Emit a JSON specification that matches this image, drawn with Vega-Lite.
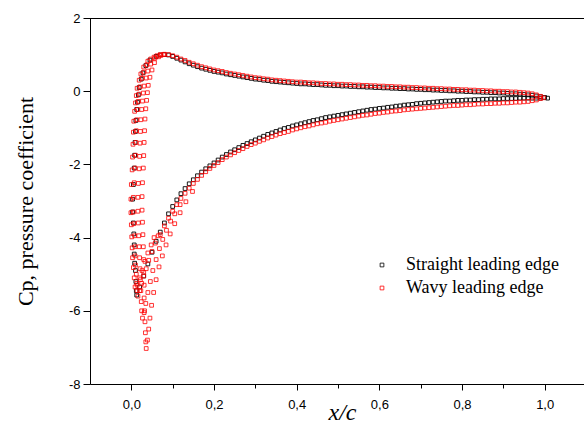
{
  "$schema": "https://vega.github.io/schema/vega-lite/v6.json",
  "width": 496,
  "height": 366,
  "autosize": {"type": "none"},
  "padding": {"left": 90, "top": 18, "right": 0, "bottom": 39},
  "background": "white",
  "config": {
    "view": {"stroke": null},
    "axis": {
      "grid": false,
      "domainColor": "#000000",
      "domainWidth": 1,
      "tickColor": "#000000",
      "tickWidth": 1,
      "labelColor": "#000000",
      "labelFont": "Liberation Sans",
      "labelFontSize": 13,
      "titleColor": "#000000",
      "titleFont": "Liberation Serif",
      "titleFontWeight": "normal"
    },
    "legend": {"labelFont": "Liberation Serif", "labelFontSize": 18, "labelColor": "#000000"}
  },
  "datasets": {
    "straight": [
      {"x":0.06,"y":0.95},{"x":0.07,"y":0.99},{"x":0.08,"y":1.0},{"x":0.09,"y":0.99},{"x":0.10,"y":0.95},{"x":0.11,"y":0.9},{"x":0.12,"y":0.85},{"x":0.13,"y":0.8},{"x":0.14,"y":0.75},{"x":0.15,"y":0.71},{"x":0.16,"y":0.67},{"x":0.17,"y":0.63},{"x":0.18,"y":0.6},{"x":0.19,"y":0.57},{"x":0.20,"y":0.54},{"x":0.21,"y":0.52},{"x":0.22,"y":0.5},{"x":0.23,"y":0.47},{"x":0.24,"y":0.45},{"x":0.25,"y":0.43},{"x":0.26,"y":0.41},{"x":0.27,"y":0.39},{"x":0.28,"y":0.37},{"x":0.29,"y":0.35},{"x":0.30,"y":0.33},{"x":0.31,"y":0.32},{"x":0.32,"y":0.3},{"x":0.33,"y":0.29},{"x":0.34,"y":0.27},{"x":0.35,"y":0.26},{"x":0.36,"y":0.25},{"x":0.37,"y":0.24},{"x":0.38,"y":0.23},{"x":0.39,"y":0.22},{"x":0.40,"y":0.21},{"x":0.41,"y":0.2},{"x":0.42,"y":0.2},{"x":0.43,"y":0.19},{"x":0.44,"y":0.18},{"x":0.45,"y":0.18},{"x":0.46,"y":0.17},{"x":0.47,"y":0.16},{"x":0.48,"y":0.16},{"x":0.49,"y":0.15},{"x":0.50,"y":0.15},{"x":0.51,"y":0.14},{"x":0.52,"y":0.14},{"x":0.53,"y":0.13},{"x":0.54,"y":0.13},{"x":0.55,"y":0.12},{"x":0.56,"y":0.12},{"x":0.57,"y":0.11},{"x":0.58,"y":0.11},{"x":0.59,"y":0.1},{"x":0.60,"y":0.1},{"x":0.61,"y":0.09},{"x":0.62,"y":0.09},{"x":0.63,"y":0.08},{"x":0.64,"y":0.08},{"x":0.65,"y":0.07},{"x":0.66,"y":0.07},{"x":0.67,"y":0.06},{"x":0.68,"y":0.06},{"x":0.69,"y":0.05},{"x":0.70,"y":0.05},{"x":0.71,"y":0.04},{"x":0.72,"y":0.04},{"x":0.73,"y":0.03},{"x":0.74,"y":0.03},{"x":0.75,"y":0.02},{"x":0.76,"y":0.02},{"x":0.77,"y":0.01},{"x":0.78,"y":0.01},{"x":0.79,"y":0.0},{"x":0.80,"y":0.0},{"x":0.81,"y":-0.01},{"x":0.82,"y":-0.01},{"x":0.83,"y":-0.02},{"x":0.84,"y":-0.02},{"x":0.85,"y":-0.03},{"x":0.86,"y":-0.03},{"x":0.87,"y":-0.04},{"x":0.88,"y":-0.04},{"x":0.89,"y":-0.05},{"x":0.90,"y":-0.05},{"x":0.91,"y":-0.06},{"x":0.92,"y":-0.07},{"x":0.93,"y":-0.07},{"x":0.94,"y":-0.08},{"x":0.95,"y":-0.09},{"x":0.96,"y":-0.1},{"x":0.97,"y":-0.11},{"x":0.98,"y":-0.13},{"x":0.99,"y":-0.15},{"x":1.0,"y":-0.17},{"x":1.007,"y":-0.19},
      {"x":0.045,"y":0.85},{"x":0.035,"y":0.7},{"x":0.028,"y":0.5},{"x":0.024,"y":0.33},{"x":0.019,"y":0.1},{"x":0.017,"y":-0.1},{"x":0.015,"y":-0.3},{"x":0.013,"y":-0.5},{"x":0.011,"y":-0.8},{"x":0.01,"y":-1.1},{"x":0.009,"y":-1.4},{"x":0.008,"y":-1.75},{"x":0.007,"y":-2.1},{"x":0.005,"y":-2.55},{"x":0.003,"y":-2.95},{"x":0.003,"y":-3.3},{"x":0.005,"y":-3.6},{"x":0.006,"y":-3.9},{"x":0.007,"y":-4.2},{"x":0.007,"y":-4.45},{"x":0.008,"y":-4.7},{"x":0.01,"y":-4.9},{"x":0.011,"y":-5.2},{"x":0.012,"y":-5.45},{"x":0.013,"y":-5.57},
      {"x":0.02,"y":-5.35},{"x":0.03,"y":-5.05},{"x":0.04,"y":-4.72},{"x":0.05,"y":-4.4},{"x":0.06,"y":-4.1},{"x":0.07,"y":-3.85},{"x":0.08,"y":-3.6},{"x":0.09,"y":-3.35},{"x":0.10,"y":-3.15},{"x":0.11,"y":-2.97},{"x":0.12,"y":-2.8},{"x":0.13,"y":-2.66},{"x":0.14,"y":-2.53},{"x":0.15,"y":-2.42},{"x":0.16,"y":-2.31},{"x":0.17,"y":-2.21},{"x":0.18,"y":-2.12},{"x":0.19,"y":-2.04},{"x":0.20,"y":-1.96},{"x":0.21,"y":-1.88},{"x":0.22,"y":-1.8},{"x":0.23,"y":-1.73},{"x":0.24,"y":-1.66},{"x":0.25,"y":-1.6},{"x":0.26,"y":-1.54},{"x":0.27,"y":-1.48},{"x":0.28,"y":-1.43},{"x":0.29,"y":-1.38},{"x":0.30,"y":-1.33},{"x":0.31,"y":-1.28},{"x":0.32,"y":-1.23},{"x":0.33,"y":-1.18},{"x":0.34,"y":-1.14},{"x":0.35,"y":-1.1},{"x":0.36,"y":-1.06},{"x":0.37,"y":-1.02},{"x":0.38,"y":-0.99},{"x":0.39,"y":-0.95},
      {"x":0.40,"y":-0.92},{"x":0.41,"y":-0.89},{"x":0.42,"y":-0.86},{"x":0.43,"y":-0.83},{"x":0.44,"y":-0.8},{"x":0.45,"y":-0.78},{"x":0.46,"y":-0.75},{"x":0.47,"y":-0.72},{"x":0.48,"y":-0.7},{"x":0.49,"y":-0.68},{"x":0.50,"y":-0.66},{"x":0.51,"y":-0.64},{"x":0.52,"y":-0.62},{"x":0.53,"y":-0.6},{"x":0.54,"y":-0.58},{"x":0.55,"y":-0.56},{"x":0.56,"y":-0.54},{"x":0.57,"y":-0.52},{"x":0.58,"y":-0.5},{"x":0.59,"y":-0.49},{"x":0.60,"y":-0.47},{"x":0.61,"y":-0.46},{"x":0.62,"y":-0.44},{"x":0.63,"y":-0.43},{"x":0.64,"y":-0.41},{"x":0.65,"y":-0.4},{"x":0.66,"y":-0.38},{"x":0.67,"y":-0.37},{"x":0.68,"y":-0.36},{"x":0.69,"y":-0.34},{"x":0.70,"y":-0.33},{"x":0.71,"y":-0.32},{"x":0.72,"y":-0.31},{"x":0.73,"y":-0.3},{"x":0.74,"y":-0.29},{"x":0.75,"y":-0.28},{"x":0.76,"y":-0.27},{"x":0.77,"y":-0.27},{"x":0.78,"y":-0.26},{"x":0.79,"y":-0.25},{"x":0.80,"y":-0.25},{"x":0.81,"y":-0.24},{"x":0.82,"y":-0.24},{"x":0.83,"y":-0.23},{"x":0.84,"y":-0.23},{"x":0.85,"y":-0.22},{"x":0.86,"y":-0.22},{"x":0.87,"y":-0.21},{"x":0.88,"y":-0.21},{"x":0.89,"y":-0.21},{"x":0.90,"y":-0.2},{"x":0.91,"y":-0.2},{"x":0.92,"y":-0.2},{"x":0.93,"y":-0.2},{"x":0.94,"y":-0.19},{"x":0.95,"y":-0.19},{"x":0.96,"y":-0.19},{"x":0.97,"y":-0.19},{"x":0.98,"y":-0.19},{"x":0.99,"y":-0.19}
    ],
    "wavy": [
      {"x":0.07,"y":1.0},{"x":0.08,"y":1.01},{"x":0.09,"y":1.0},{"x":0.10,"y":0.97},{"x":0.11,"y":0.93},{"x":0.12,"y":0.88},{"x":0.13,"y":0.84},{"x":0.14,"y":0.79},{"x":0.15,"y":0.75},{"x":0.16,"y":0.71},{"x":0.17,"y":0.67},{"x":0.18,"y":0.64},{"x":0.19,"y":0.61},{"x":0.20,"y":0.58},{"x":0.21,"y":0.56},{"x":0.22,"y":0.54},{"x":0.23,"y":0.51},{"x":0.24,"y":0.49},{"x":0.25,"y":0.47},{"x":0.26,"y":0.45},{"x":0.27,"y":0.43},{"x":0.28,"y":0.41},{"x":0.29,"y":0.39},{"x":0.30,"y":0.37},{"x":0.31,"y":0.36},{"x":0.32,"y":0.34},{"x":0.33,"y":0.33},{"x":0.34,"y":0.31},{"x":0.35,"y":0.3},{"x":0.36,"y":0.29},{"x":0.37,"y":0.28},{"x":0.38,"y":0.27},{"x":0.39,"y":0.26},{"x":0.40,"y":0.25},{"x":0.41,"y":0.25},{"x":0.42,"y":0.24},{"x":0.43,"y":0.23},{"x":0.44,"y":0.23},{"x":0.45,"y":0.22},{"x":0.46,"y":0.21},{"x":0.47,"y":0.21},{"x":0.48,"y":0.2},{"x":0.49,"y":0.2},{"x":0.50,"y":0.19},{"x":0.51,"y":0.19},{"x":0.52,"y":0.18},{"x":0.53,"y":0.18},{"x":0.54,"y":0.17},{"x":0.55,"y":0.17},{"x":0.56,"y":0.16},{"x":0.57,"y":0.16},{"x":0.58,"y":0.15},{"x":0.59,"y":0.15},{"x":0.60,"y":0.14},{"x":0.61,"y":0.14},{"x":0.62,"y":0.13},{"x":0.63,"y":0.13},{"x":0.64,"y":0.12},{"x":0.65,"y":0.12},{"x":0.66,"y":0.11},{"x":0.67,"y":0.11},{"x":0.68,"y":0.1},{"x":0.69,"y":0.1},{"x":0.70,"y":0.09},{"x":0.71,"y":0.09},{"x":0.72,"y":0.08},{"x":0.73,"y":0.08},{"x":0.74,"y":0.07},{"x":0.75,"y":0.07},{"x":0.76,"y":0.06},{"x":0.77,"y":0.06},{"x":0.78,"y":0.05},{"x":0.79,"y":0.05},{"x":0.80,"y":0.04},{"x":0.81,"y":0.04},{"x":0.82,"y":0.03},{"x":0.83,"y":0.03},{"x":0.84,"y":0.02},{"x":0.85,"y":0.02},{"x":0.86,"y":0.01},{"x":0.87,"y":0.01},{"x":0.88,"y":0.0},{"x":0.89,"y":0.0},{"x":0.90,"y":-0.01},{"x":0.91,"y":-0.01},{"x":0.92,"y":-0.02},{"x":0.93,"y":-0.02},{"x":0.94,"y":-0.03},{"x":0.95,"y":-0.04},{"x":0.96,"y":-0.05},{"x":0.97,"y":-0.07},{"x":0.98,"y":-0.1},{"x":0.99,"y":-0.14},{"x":0.997,"y":-0.18},
      {"x":0.07,"y":-3.92},{"x":0.08,"y":-3.68},{"x":0.09,"y":-3.47},{"x":0.10,"y":-3.28},{"x":0.11,"y":-3.1},{"x":0.12,"y":-2.93},{"x":0.13,"y":-2.79},{"x":0.14,"y":-2.65},{"x":0.15,"y":-2.52},{"x":0.16,"y":-2.41},{"x":0.17,"y":-2.3},{"x":0.18,"y":-2.2},{"x":0.19,"y":-2.11},{"x":0.20,"y":-2.03},{"x":0.21,"y":-1.95},{"x":0.22,"y":-1.87},{"x":0.23,"y":-1.8},{"x":0.24,"y":-1.74},{"x":0.25,"y":-1.68},{"x":0.26,"y":-1.62},{"x":0.27,"y":-1.57},{"x":0.28,"y":-1.51},{"x":0.29,"y":-1.46},{"x":0.30,"y":-1.42},{"x":0.31,"y":-1.37},{"x":0.32,"y":-1.33},{"x":0.33,"y":-1.28},{"x":0.34,"y":-1.24},{"x":0.35,"y":-1.2},{"x":0.36,"y":-1.16},{"x":0.37,"y":-1.13},{"x":0.38,"y":-1.1},{"x":0.39,"y":-1.06},{"x":0.40,"y":-1.03},{"x":0.41,"y":-1.0},{"x":0.42,"y":-0.97},{"x":0.43,"y":-0.95},{"x":0.44,"y":-0.92},{"x":0.45,"y":-0.89},{"x":0.46,"y":-0.87},{"x":0.47,"y":-0.85},{"x":0.48,"y":-0.82},{"x":0.49,"y":-0.8},{"x":0.50,"y":-0.78},{"x":0.51,"y":-0.76},{"x":0.52,"y":-0.74},{"x":0.53,"y":-0.72},{"x":0.54,"y":-0.7},{"x":0.55,"y":-0.68},{"x":0.56,"y":-0.66},{"x":0.57,"y":-0.65},{"x":0.58,"y":-0.63},{"x":0.59,"y":-0.61},{"x":0.60,"y":-0.6},{"x":0.61,"y":-0.58},{"x":0.62,"y":-0.57},{"x":0.63,"y":-0.55},{"x":0.64,"y":-0.54},{"x":0.65,"y":-0.53},{"x":0.66,"y":-0.51},{"x":0.67,"y":-0.5},{"x":0.68,"y":-0.49},{"x":0.69,"y":-0.48},{"x":0.70,"y":-0.47},{"x":0.71,"y":-0.46},{"x":0.72,"y":-0.45},{"x":0.73,"y":-0.44},{"x":0.74,"y":-0.43},{"x":0.75,"y":-0.42},{"x":0.76,"y":-0.41},{"x":0.77,"y":-0.4},{"x":0.78,"y":-0.39},{"x":0.79,"y":-0.39},{"x":0.80,"y":-0.38},{"x":0.81,"y":-0.37},{"x":0.82,"y":-0.37},{"x":0.83,"y":-0.36},{"x":0.84,"y":-0.35},{"x":0.85,"y":-0.35},{"x":0.86,"y":-0.34},{"x":0.87,"y":-0.34},{"x":0.88,"y":-0.33},{"x":0.89,"y":-0.33},{"x":0.90,"y":-0.32},{"x":0.91,"y":-0.32},{"x":0.92,"y":-0.31},{"x":0.93,"y":-0.3},{"x":0.94,"y":-0.3},{"x":0.95,"y":-0.29},{"x":0.96,"y":-0.28},{"x":0.97,"y":-0.26},{"x":0.98,"y":-0.24},{"x":0.99,"y":-0.2},
      {"x":0.062,"y":0.97},{"x":0.047,"y":0.88},{"x":0.037,"y":0.72},{"x":0.03,"y":0.52},{"x":0.026,"y":0.35},{"x":0.021,"y":0.12},{"x":0.019,"y":-0.08},{"x":0.017,"y":-0.28},{"x":0.015,"y":-0.5},{"x":0.013,"y":-0.78},{"x":0.012,"y":-1.08},{"x":0.011,"y":-1.4},{"x":0.01,"y":-1.75},{"x":0.009,"y":-2.1},{"x":0.007,"y":-2.5},{"x":0.005,"y":-2.9},{"x":0.005,"y":-3.3},{"x":0.006,"y":-3.62},{"x":0.008,"y":-3.95},{"x":0.009,"y":-4.25},{"x":0.009,"y":-4.5},{"x":0.01,"y":-4.75},{"x":0.012,"y":-5.0},{"x":0.013,"y":-5.25},{"x":0.014,"y":-5.45},{"x":0.016,"y":-5.6},
      {"x":0.02,"y":-5.45},{"x":0.025,"y":-5.25},{"x":0.03,"y":-5.05},{"x":0.036,"y":-4.85},{"x":0.042,"y":-4.62},{"x":0.05,"y":-4.38},{"x":0.058,"y":-4.15},{"x":0.065,"y":-3.95},
      {"x":0.072,"y":0.98},{"x":0.057,"y":0.9},{"x":0.047,"y":0.74},{"x":0.04,"y":0.55},{"x":0.036,"y":0.36},{"x":0.031,"y":0.14},{"x":0.029,"y":-0.05},{"x":0.027,"y":-0.27},{"x":0.025,"y":-0.5},{"x":0.023,"y":-0.78},{"x":0.022,"y":-1.1},{"x":0.021,"y":-1.42},{"x":0.02,"y":-1.78},{"x":0.019,"y":-2.12},{"x":0.017,"y":-2.52},{"x":0.016,"y":-2.9},{"x":0.016,"y":-3.28},{"x":0.017,"y":-3.6},{"x":0.018,"y":-3.95},{"x":0.019,"y":-4.25},{"x":0.02,"y":-4.55},{"x":0.021,"y":-4.85},{"x":0.022,"y":-5.15},{"x":0.023,"y":-5.45},{"x":0.024,"y":-5.75},{"x":0.025,"y":-6.0},{"x":0.027,"y":-6.2},
      {"x":0.031,"y":-6.05},{"x":0.035,"y":-5.8},{"x":0.04,"y":-5.5},{"x":0.046,"y":-5.2},{"x":0.052,"y":-4.9},{"x":0.06,"y":-4.6},{"x":0.068,"y":-4.3},{"x":0.076,"y":-4.05},{"x":0.085,"y":-3.8},{"x":0.095,"y":-3.55},{"x":0.105,"y":-3.35},{"x":0.118,"y":-3.1},
      {"x":0.078,"y":1.0},{"x":0.066,"y":0.94},{"x":0.056,"y":0.78},{"x":0.05,"y":0.58},{"x":0.045,"y":0.38},{"x":0.041,"y":0.16},{"x":0.039,"y":-0.04},{"x":0.037,"y":-0.25},{"x":0.035,"y":-0.48},{"x":0.033,"y":-0.76},{"x":0.032,"y":-1.08},{"x":0.031,"y":-1.4},{"x":0.03,"y":-1.76},{"x":0.029,"y":-2.1},{"x":0.027,"y":-2.5},{"x":0.026,"y":-2.88},{"x":0.026,"y":-3.25},{"x":0.027,"y":-3.58},{"x":0.028,"y":-3.92},{"x":0.029,"y":-4.25},{"x":0.03,"y":-4.6},{"x":0.03,"y":-4.95},{"x":0.031,"y":-5.3},{"x":0.031,"y":-5.65},{"x":0.032,"y":-6.0},{"x":0.033,"y":-6.3},{"x":0.034,"y":-6.6},{"x":0.035,"y":-6.85},{"x":0.036,"y":-7.03},
      {"x":0.039,"y":-6.8},{"x":0.042,"y":-6.5},{"x":0.045,"y":-6.2},{"x":0.049,"y":-5.85},{"x":0.054,"y":-5.5},{"x":0.06,"y":-5.15},{"x":0.067,"y":-4.8},{"x":0.075,"y":-4.5},{"x":0.084,"y":-4.2},{"x":0.094,"y":-3.9},{"x":0.105,"y":-3.62},{"x":0.118,"y":-3.32},{"x":0.132,"y":-3.02},{"x":0.148,"y":-2.74},
      {"x":0.055,"y":0.93},{"x":0.04,"y":0.82},{"x":0.03,"y":0.66},{"x":0.023,"y":0.47},{"x":0.019,"y":0.3},{"x":0.014,"y":0.08},{"x":0.012,"y":-0.12},{"x":0.01,"y":-0.32},{"x":0.008,"y":-0.55},{"x":0.006,"y":-0.82},{"x":0.005,"y":-1.12},{"x":0.004,"y":-1.45},{"x":0.003,"y":-1.8},{"x":0.002,"y":-2.15},{"x":0.0,"y":-2.55},{"x":-0.001,"y":-2.95},{"x":-0.001,"y":-3.32},{"x":0.0,"y":-3.65},{"x":0.001,"y":-3.98},{"x":0.002,"y":-4.28},{"x":0.003,"y":-4.55},{"x":0.005,"y":-4.82},{"x":0.007,"y":-5.1},{"x":0.009,"y":-5.35},
      {"x":0.014,"y":-5.3},{"x":0.02,"y":-5.1},{"x":0.026,"y":-4.9},{"x":0.033,"y":-4.65},{"x":0.04,"y":-4.42},{"x":0.048,"y":-4.2},{"x":0.055,"y":-4.0}
    ]
  },
  "layer": [
    {
      "data": {"name": "straight"},
      "mark": {"type": "point", "shape": "square", "filled": false, "size": 14, "strokeWidth": 0.9, "opacity": 1},
      "encoding": {
        "x": {
          "field": "x", "type": "quantitative",
          "scale": {"domain": [-0.1, 1.1], "nice": false, "zero": false},
          "axis": {
            "orient": "bottom",
            "values": [0, 0.1, 0.2, 0.3, 0.4, 0.5, 0.6, 0.7, 0.8, 0.9, 1.0],
            "labelExpr": "round(datum.value*10) % 2 == 0 ? replace(format(datum.value, '.1f'), '.', ',') : ''",
            "tickSize": {"condition": {"test": "round(datum.value*10) % 2 == 0", "value": 6}, "value": 4},
            "labelPadding": 8,
            "labelFlush": false,
            "labelOverlap": false,
            "title": "x/c",
            "titleFontStyle": "italic",
            "titleFontSize": 24,
            "titleX": 252,
            "titleY": 35,
            "titleAlign": "center",
            "titleBaseline": "alphabetic"
          }
        },
        "y": {
          "field": "y", "type": "quantitative",
          "scale": {"domain": [-8, 2], "nice": false, "zero": false},
          "axis": {
            "values": [-8, -7, -6, -5, -4, -3, -2, -1, 0, 1, 2],
            "labelExpr": "datum.value % 2 == 0 ? '' + datum.value : ''",
            "tickSize": {"condition": {"test": "datum.value % 2 == 0", "value": 7}, "value": 4},
            "labelPadding": 3,
            "labelOverlap": false,
            "labelFlush": false,
            "title": "Cp, pressure coefficient",
            "titleFontSize": 22,
            "titleAngle": 270,
            "titleX": -58,
            "titleY": 183,
            "titleAlign": "center",
            "titleBaseline": "alphabetic"
          }
        },
        "color": {
          "datum": "Straight leading edge",
          "scale": {"domain": ["Straight leading edge", "Wavy leading edge"], "range": ["#000000", "#ff0000"]},
          "legend": {
            "title": null,
            "orient": "none",
            "legendX": 283,
            "legendY": 238,
            "symbolType": "square",
            "symbolSize": 14,
            "symbolStrokeWidth": 0.8,
            "symbolFillColor": "transparent",
            "labelOffset": 15,
            "rowPadding": 5,
            "padding": 0
          }
        }
      }
    },
    {
      "data": {"name": "wavy"},
      "mark": {"type": "point", "shape": "square", "filled": false, "size": 14, "strokeWidth": 0.8, "opacity": 1},
      "encoding": {
        "x": {"field": "x", "type": "quantitative"},
        "y": {"field": "y", "type": "quantitative"},
        "color": {"datum": "Wavy leading edge"}
      }
    },
    {
      "data": {"values": [{"edge": "top"}]},
      "mark": {"type": "rect", "color": "#000000", "opacity": 1},
      "encoding": {
        "x": {"datum": -0.1, "type": "quantitative"},
        "x2": {"datum": 1.1},
        "y": {"datum": 2, "type": "quantitative"},
        "y2": {"datum": 1.975}
      }
    }
  ]
}
